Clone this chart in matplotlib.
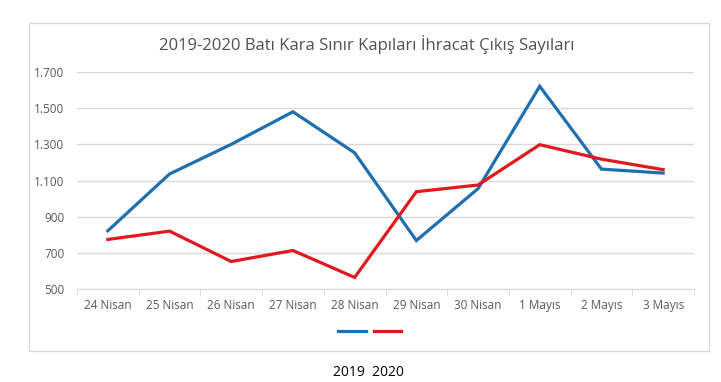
import matplotlib
matplotlib.use('Agg')
import matplotlib.pyplot as plt
from matplotlib.patches import Rectangle
from matplotlib.ticker import FuncFormatter, FixedLocator

plt.rcParams['font.family'] = ['Open Sans', 'DejaVu Sans']

days = ["24 Nisan", "25 Nisan", "26 Nisan", "27 Nisan", "28 Nisan",
        "29 Nisan", "30 Nisan", "1 Mayıs", "2 Mayıs", "3 Mayıs"]
y2019 = [822, 1136, 1300, 1480, 1253, 768, 1055, 1621, 1163, 1141]
y2020 = [774, 820, 652, 713, 564, 1038, 1075, 1298, 1218, 1160]
yticks = [500, 700, 900, 1100, 1300, 1500, 1700]

fig = plt.figure(figsize=(7.21, 3.82), dpi=100)
fig.patch.set_facecolor('white')

# chart frame
fig.patches.append(Rectangle((29 / 721, 1 - 351 / 382), 680 / 721, 328 / 382,
                             transform=fig.transFigure, fill=False,
                             edgecolor='#d9d9d9', linewidth=1))

ax = fig.add_axes([77 / 721, 1 - 289 / 382, 617 / 721, 217 / 382])
x = list(range(len(days)))
ax.plot(x, y2019, color='#1f6fb0', linewidth=2.3, solid_joinstyle='miter', zorder=3)
ax.plot(x, y2020, color='#e1181e', linewidth=2.3, solid_joinstyle='miter', zorder=4)

ax.set_xlim(-0.5, len(days) - 0.5)
ax.set_ylim(500, 1700)
ax.set_yticks(yticks)
ax.yaxis.set_major_formatter(FuncFormatter(lambda v, p: f"{int(v):,}".replace(",", ".")))
ax.grid(axis='y', color='#d9d9d9', linewidth=1)
ax.set_axisbelow(True)

ax.set_xticks(x)
ax.set_xticklabels(days)
ax.xaxis.set_minor_locator(FixedLocator([i - 0.5 for i in range(len(days) + 1)]))
ax.tick_params(axis='x', which='major', length=0, pad=7, labelsize=8.5, labelcolor='#595959')
ax.tick_params(axis='x', which='minor', length=5, color='#d9d9d9')
ax.tick_params(axis='y', length=0, pad=9, labelsize=8.5, labelcolor='#595959')

for s in ['top', 'right', 'left']:
    ax.spines[s].set_visible(False)
ax.spines['bottom'].set_color('#d9d9d9')

fig.text(0.508, 1 - 45 / 382, "2019-2020 Batı Kara Sınır Kapıları İhracat Çıkış Sayıları",
         ha='center', va='center', fontsize=12, color='#505050')

# legend without labels
fig.add_artist(plt.Line2D([338 / 721, 366 / 721], [1 - 331 / 382] * 2,
                          color='#1f6fb0', linewidth=2.3))
fig.add_artist(plt.Line2D([374 / 721, 401 / 721], [1 - 331 / 382] * 2,
                          color='#e1181e', linewidth=2.3))

fig.text(368 / 721, 1 - 372 / 382, "2019  2020", ha='center', va='center',
         fontsize=10, color='black')

fig.savefig("out.png", dpi=100)
